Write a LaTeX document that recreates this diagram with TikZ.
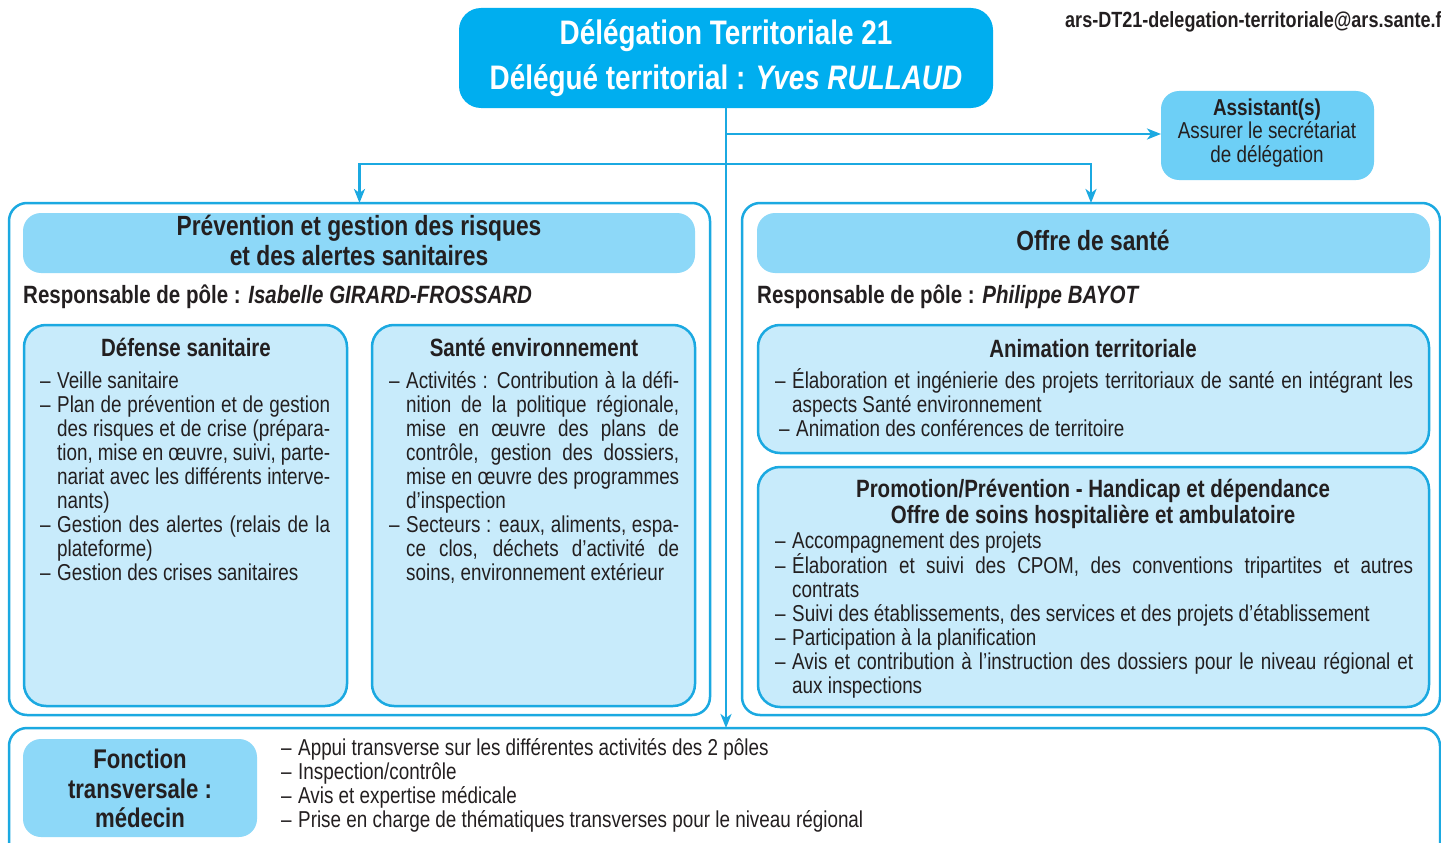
\documentclass[tikz,border=0pt]{standalone}
\usepackage{fontspec}
\setmainfont{Liberation Sans}[FakeStretch=0.82]
\usetikzlibrary{arrows.meta}
\definecolor{cyanM}{HTML}{00AEEF}
\definecolor{lineC}{HTML}{1BA9E1}
\definecolor{hdr}{HTML}{8DD8F8}
\definecolor{asst}{HTML}{6DCFF6}
\definecolor{innerC}{HTML}{C8EBFB}
\definecolor{ink}{HTML}{231F20}
\newlength\dw \setlength\dw{17pt}
\newcommand\LnR[1]{\makebox[\dw][l]{–}#1}
\newcommand\LnJ[2]{\makebox[\dw][l]{–}\makebox[#1][s]{#2}}
\newcommand\CnR[1]{\hspace*{\dw}#1}
\newcommand\CnJ[2]{\hspace*{\dw}\makebox[#1][s]{#2}}
\begin{document}
\begin{tikzpicture}[x=1pt,y=-1pt,
  boxbase/.style={anchor=north west,inner sep=0pt,outer sep=0pt},
  mainbox/.style={boxbase,fill=cyanM,rounded corners=22pt},
  outerbox/.style={boxbase,draw=lineC,line width=2.5pt,fill=white,rounded corners=18pt},
  hdrbox/.style={boxbase,fill=hdr,rounded corners=18pt},
  asstbox/.style={boxbase,fill=asst,rounded corners=18pt},
  innerbox/.style={boxbase,draw=lineC,line width=2.5pt,fill=innerC,rounded corners=22pt},
  conn/.style={draw=lineC,line width=2.5pt},
  arr/.style={conn,-{Stealth[length=14pt,width=11pt,inset=4pt]}},
  body/.style={inner sep=0pt,text=ink,font=\fontsize{23}{24}\selectfont,align=left,anchor=north west},
  plain/.style={inner sep=0pt,text=ink,font=\fontsize{23}{24}\selectfont},
  hd/.style={inner sep=0pt,text=ink,font=\bfseries\fontsize{25}{30}\selectfont},
  sec/.style={inner sep=0pt,text=ink,font=\bfseries\fontsize{27.8}{30}\selectfont},
  fct/.style={inner sep=0pt,text=ink,font=\bfseries\fontsize{27}{30}\selectfont},
  ttl/.style={inner sep=0pt,text=white,font=\bfseries\fontsize{34}{44}\selectfont},
]
\clip (0,0) rectangle (1441,843);
\fill[white] (0,0) rectangle (1441,843);

% boxes
\node[mainbox,minimum width=534pt,minimum height=100pt] (main) at (459,8) {};
\node[asstbox,minimum width=213pt,minimum height=89pt] (asst) at (1161,91) {};
\node[outerbox,minimum width=701pt,minimum height=512pt] (left) at (9,203) {};
\node[outerbox,minimum width=698pt,minimum height=512pt] (right) at (742,203) {};
\node[outerbox,minimum width=1431pt,minimum height=160pt] (bottom) at (9,728) {};
\node[hdrbox,minimum width=672pt,minimum height=60pt] (lhdr) at (23,213) {};
\node[hdrbox,minimum width=673pt,minimum height=60pt] (rhdr) at (757,213) {};
\node[innerbox,minimum width=323pt,minimum height=381pt] (def) at (24,325) {};
\node[innerbox,minimum width=323pt,minimum height=381pt] (env) at (372,325) {};
\node[innerbox,minimum width=671pt,minimum height=128pt] (anim) at (758,325) {};
\node[innerbox,minimum width=671pt,minimum height=240pt] (promo) at (758,467) {};
\node[hdrbox,minimum width=234pt,minimum height=98pt] (fonc) at (23,739) {};

% connectors
\coordinate (jn) at (main.south |- 0,164);
\draw[arr] (main.south) -- (main.south |- bottom.north);
\draw[arr] (main.south |- 0,134) -- (asst.west |- 0,134);
\draw[arr] (jn) -| (left.north);
\draw[arr] (jn) -| (right.north);

% main title
\node[ttl,anchor=base] (t1) at (726,45) {Délégation Territoriale 21};
\node[ttl,anchor=base] (t2) at (726,89) {Délégué territorial : \textit{Yves RULLAUD}};
\node[inner sep=0pt,text=ink,font=\bfseries\fontsize{22}{24}\selectfont,anchor=base west] (mail) at (1065,28) {ars-DT21-delegation-territoriale@ars.sante.fr};

% assistant
\node[plain,anchor=base,font=\bfseries\fontsize{23}{24}\selectfont] (a1) at (1267,115) {Assistant(s)};
\node[plain,anchor=base] (a2) at (1267,138) {Assurer le secrétariat};
\node[plain,anchor=base] (a3) at (1267,162) {de délégation};

% headers
\node[sec,anchor=base] (h1a) at (359,235) {Prévention et gestion des risques};
\node[sec,anchor=base] (h1b) at (359,265) {et des alertes sanitaires};
\node[sec,anchor=base] (h2) at (1093,250) {Offre de santé};
\node[hd,anchor=base west] (r1) at (23,303) {Responsable de pôle : \textit{Isabelle GIRARD-FROSSARD}};
\node[hd,anchor=base west] (r2) at (757,303) {Responsable de pôle : \textit{Philippe BAYOT}};

% sub titles
\node[hd,anchor=base] (s1) at (186,356) {Défense sanitaire};
\node[hd,anchor=base] (s2) at (534,356) {Santé environnement};
\node[hd,anchor=base] (s3) at (1093,357) {Animation territoriale};
\node[hd,anchor=base] (s4a) at (1093,497) {Promotion/Prévention - Handicap et dépendance};
\node[hd,anchor=base] (s4b) at (1093,523) {Offre de soins hospitalière et ambulatoire};

% lists
\node[body] (l1) at (40,365) {\rule{0pt}{23pt}\LnR{Veille sanitaire}\\
\LnJ{273pt}{Plan de prévention et de gestion}\\
\CnJ{273pt}{des risques et de crise (prépara-}\\
\CnJ{273pt}{tion, mise en œuvre, suivi, parte-}\\
\CnJ{273pt}{nariat avec les différents interve-}\\
\CnR{nants)}\\
\LnJ{273pt}{Gestion des alertes (relais de la}\\
\CnR{plateforme)}\\
\LnR{Gestion des crises sanitaires}};

\node[body] (l2) at (389,365) {\rule{0pt}{23pt}\LnJ{273pt}{Activités : Contribution à la défi-}\\
\CnJ{273pt}{nition de la politique régionale,}\\
\CnJ{273pt}{mise en œuvre des plans de}\\
\CnJ{273pt}{contrôle, gestion des dossiers,}\\
\CnJ{273pt}{mise en œuvre des programmes}\\
\CnR{d’inspection}\\
\LnJ{273pt}{Secteurs : eaux, aliments, espa-}\\
\CnJ{273pt}{ce clos, déchets d’activité de}\\
\CnR{soins, environnement extérieur}};

\node[body] (l3) at (775,365) {\rule{0pt}{23pt}\LnJ{621pt}{Élaboration et ingénierie des projets territoriaux de santé en intégrant les}\\
\CnR{aspects Santé environnement}\\
\hspace*{4pt}\LnR{Animation des conférences de territoire}};

\node[body] (l4) at (775,525) {\rule{0pt}{23pt}\LnR{Accompagnement des projets}\\
\LnJ{621pt}{Élaboration et suivi des CPOM, des conventions tripartites et autres}\\
\CnR{contrats}\\
\LnR{Suivi des établissements, des services et des projets d’établissement}\\
\LnR{Participation à la planification}\\
\LnJ{621pt}{Avis et contribution à l’instruction des dossiers pour le niveau régional et}\\
\CnR{aux inspections}};

% fonction transversale
\node[fct,anchor=base] (f1) at (140,768) {Fonction};
\node[fct,anchor=base] (f2) at (140,798) {transversale :};
\node[fct,anchor=base] (f3) at (140,827) {médecin};
\node[body] (l5) at (281,732) {\rule{0pt}{23pt}\LnR{Appui transverse sur les différentes activités des 2 pôles}\\
\LnR{Inspection/contrôle}\\
\LnR{Avis et expertise médicale}\\
\LnR{Prise en charge de thématiques transverses pour le niveau régional}};
\end{tikzpicture}
\end{document}
